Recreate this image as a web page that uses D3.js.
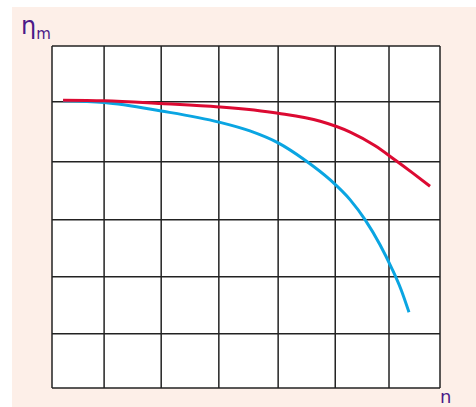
<!DOCTYPE html>
<html>
<head>
<meta charset="utf-8">
<script src="https://cdn.jsdelivr.net/npm/d3@7"></script>
<style>
  html, body { margin: 0; padding: 0; background: #fff; }
  svg { display: block; }
</style>
</head>
<body>
<svg id="chart" width="476" height="407"></svg>
<script>
/* grid positions (in data units) */
const grid_x = [0, 0.94, 1.97, 3.01, 4.08, 5.11, 6.08, 7]
const grid_y = [0, 0.95, 1.95, 2.95, 3.97, 5.02, 6]

/* red curve */
const red_x = [0.20, 0.94, 1.97, 3.01, 4.08, 4.84, 5.38, 5.83, 6.19, 6.51, 6.82]
const red_y = [5.05, 5.04, 4.99, 4.93, 4.82, 4.68, 4.49, 4.25, 4.00, 3.77, 3.54]

/* blue curve */
const blue_x = [0.20, 0.94, 1.97, 3.01, 3.57, 4.08, 4.56, 5.02, 5.38, 5.65, 5.92, 6.13, 6.30, 6.44]
const blue_y = [5.04, 5.01, 4.86, 4.665, 4.51, 4.30, 4.00, 3.65, 3.30, 2.95, 2.51, 2.10, 1.72, 1.33]

const svg = d3.select('#chart')
const width = 476, height = 407

const color_red = '#dc0a32', color_blue = '#0aa5e2', color_text = '#4b1a88'

/* pink background panel */
svg.append('rect')
    .attr('x', 12).attr('y', 7)
    .attr('width', width - 12).attr('height', height - 7)
    .attr('fill', '#fdefe8')

const plot_left = 52, plot_right = 440, plot_top = 46, plot_bottom = 388

const x = d3.scaleLinear().domain([0, 7]).range([plot_left, plot_right])
const y = d3.scaleLinear().domain([0, 6]).range([plot_bottom, plot_top])

/* white plot area */
svg.append('rect')
    .attr('x', plot_left).attr('y', plot_top)
    .attr('width', plot_right - plot_left).attr('height', plot_bottom - plot_top)
    .attr('fill', '#fff')

/* grid */
svg.append('g')
    .selectAll('line')
    .data(grid_x)
    .join('line')
    .attr('x1', d => x(d)).attr('x2', d => x(d))
    .attr('y1', plot_top).attr('y2', plot_bottom)
    .attr('stroke', '#222').attr('stroke-width', 1.5)

svg.append('g')
    .selectAll('line')
    .data(grid_y)
    .join('line')
    .attr('y1', d => y(d)).attr('y2', d => y(d))
    .attr('x1', plot_left).attr('x2', plot_right)
    .attr('stroke', '#222').attr('stroke-width', 1.5)

/* curves */
const line = d3.line()
    .x(d => x(d[0]))
    .y(d => y(d[1]))
    .curve(d3.curveMonotoneX)

svg.append('path')
    .datum(blue_x.map((v, i) => [v, blue_y[i]]))
    .attr('d', line)
    .attr('fill', 'none')
    .attr('stroke', color_blue)
    .attr('stroke-width', 3)

svg.append('path')
    .datum(red_x.map((v, i) => [v, red_y[i]]))
    .attr('d', line)
    .attr('fill', 'none')
    .attr('stroke', color_red)
    .attr('stroke-width', 3)

/* axis labels */
const ylab = svg.append('text')
    .attr('x', 21).attr('y', 34)
    .attr('fill', color_text)
    .style('font-family', 'DejaVu Sans, sans-serif')
ylab.append('tspan').style('font-size', '24px').text('η')
ylab.append('tspan').style('font-size', '15px').attr('dy', 5).text('m')

svg.append('text')
    .attr('x', 440).attr('y', 403)
    .attr('fill', color_text)
    .style('font-family', 'DejaVu Sans, sans-serif')
    .style('font-size', '18px')
    .text('n')
</script>
</body>
</html>
